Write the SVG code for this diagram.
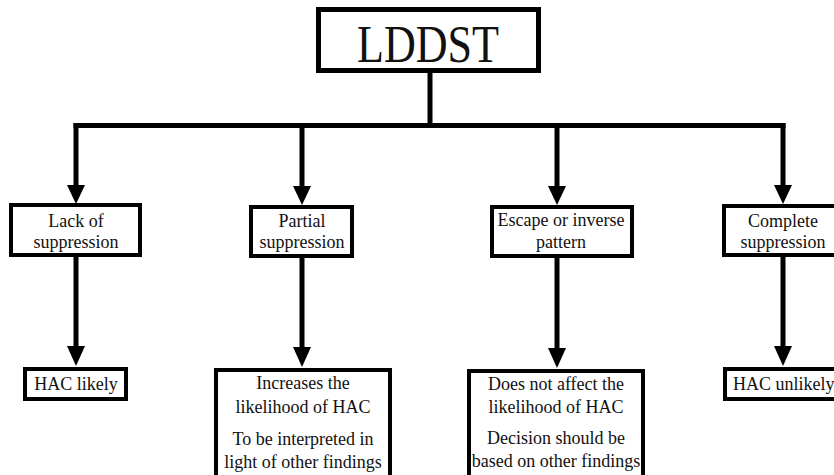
<svg xmlns="http://www.w3.org/2000/svg" width="834" height="475" viewBox="0 0 834 475">
<style>
.box{fill:#fff;stroke:#000;stroke-width:4}
.c{fill:none;stroke:#000;stroke-width:5}
</style>
<rect width="834" height="475" fill="#fff"/>
<g id="connectors">
<path class="c" d="M430,72 V125.5"/>
<path class="c" d="M73.5,125.5 H785.5"/>
<path class="c" d="M76,123 V186"/>
<path class="c" d="M302,123 V187"/>
<path class="c" d="M557,123 V187"/>
<path class="c" d="M783,123 V186"/>
<path d="M67,185 H85 L76,204 Z"/>
<path d="M293,186 H311 L302,205 Z"/>
<path d="M548,186 H566 L557,205 Z"/>
<path d="M774,185 H792 L783,204 Z"/>
<path class="c" d="M76,256 V348"/>
<path class="c" d="M302,257 V349"/>
<path class="c" d="M557,257 V350"/>
<path class="c" d="M783,256 V348"/>
<path d="M67,346 H85 L76,366 Z"/>
<path d="M293,347 H311 L302,367 Z"/>
<path d="M548,348 H566 L557,368 Z"/>
<path d="M774,346 H792 L783,366 Z"/>
</g>
<g font-family="Liberation Serif, Times New Roman, serif" fill="#111" text-anchor="middle" font-size="18">
<g id="root">
<rect class="box" x="318.5" y="9.5" width="220" height="61" style="stroke-width:5"/>
<text x="428" y="62" font-size="52" textLength="142" lengthAdjust="spacingAndGlyphs">LDDST</text>
</g>
<g id="lack">
<rect class="box" x="11" y="205" width="129" height="50"/>
<text x="76" y="227">Lack of</text>
<text x="76" y="248">suppression</text>
</g>
<g id="partial">
<rect class="box" x="251" y="207" width="101" height="49"/>
<text x="302" y="227">Partial</text>
<text x="302" y="248">suppression</text>
</g>
<g id="escape">
<rect class="box" x="492" y="207" width="140" height="49"/>
<text x="561" y="226">Escape or inverse</text>
<text x="561" y="248">pattern</text>
</g>
<g id="complete">
<rect class="box" x="724" y="206" width="118" height="49"/>
<text x="783" y="227">Complete</text>
<text x="783" y="248">suppression</text>
</g>
<g id="likely">
<rect class="box" x="25" y="369" width="101" height="30"/>
<text x="76" y="390">HAC likely</text>
</g>
<g id="increases">
<rect class="box" x="216" y="370" width="174" height="115"/>
<text x="303" y="389">Increases the</text>
<text x="303" y="413">likelihood of HAC</text>
<text x="303" y="445">To be interpreted in</text>
<text x="303" y="468">light of other findings</text>
</g>
<g id="noaffect">
<rect class="box" x="469" y="371" width="174" height="115"/>
<text x="556" y="390">Does not affect the</text>
<text x="556" y="413">likelihood of HAC</text>
<text x="556" y="444">Decision should be</text>
<text x="556" y="467">based on other findings</text>
</g>
<g id="unlikely">
<rect class="box" x="725" y="369" width="118" height="30"/>
<text x="733" y="390" text-anchor="start">HAC unlikely</text>
</g>
</g>
</svg>
